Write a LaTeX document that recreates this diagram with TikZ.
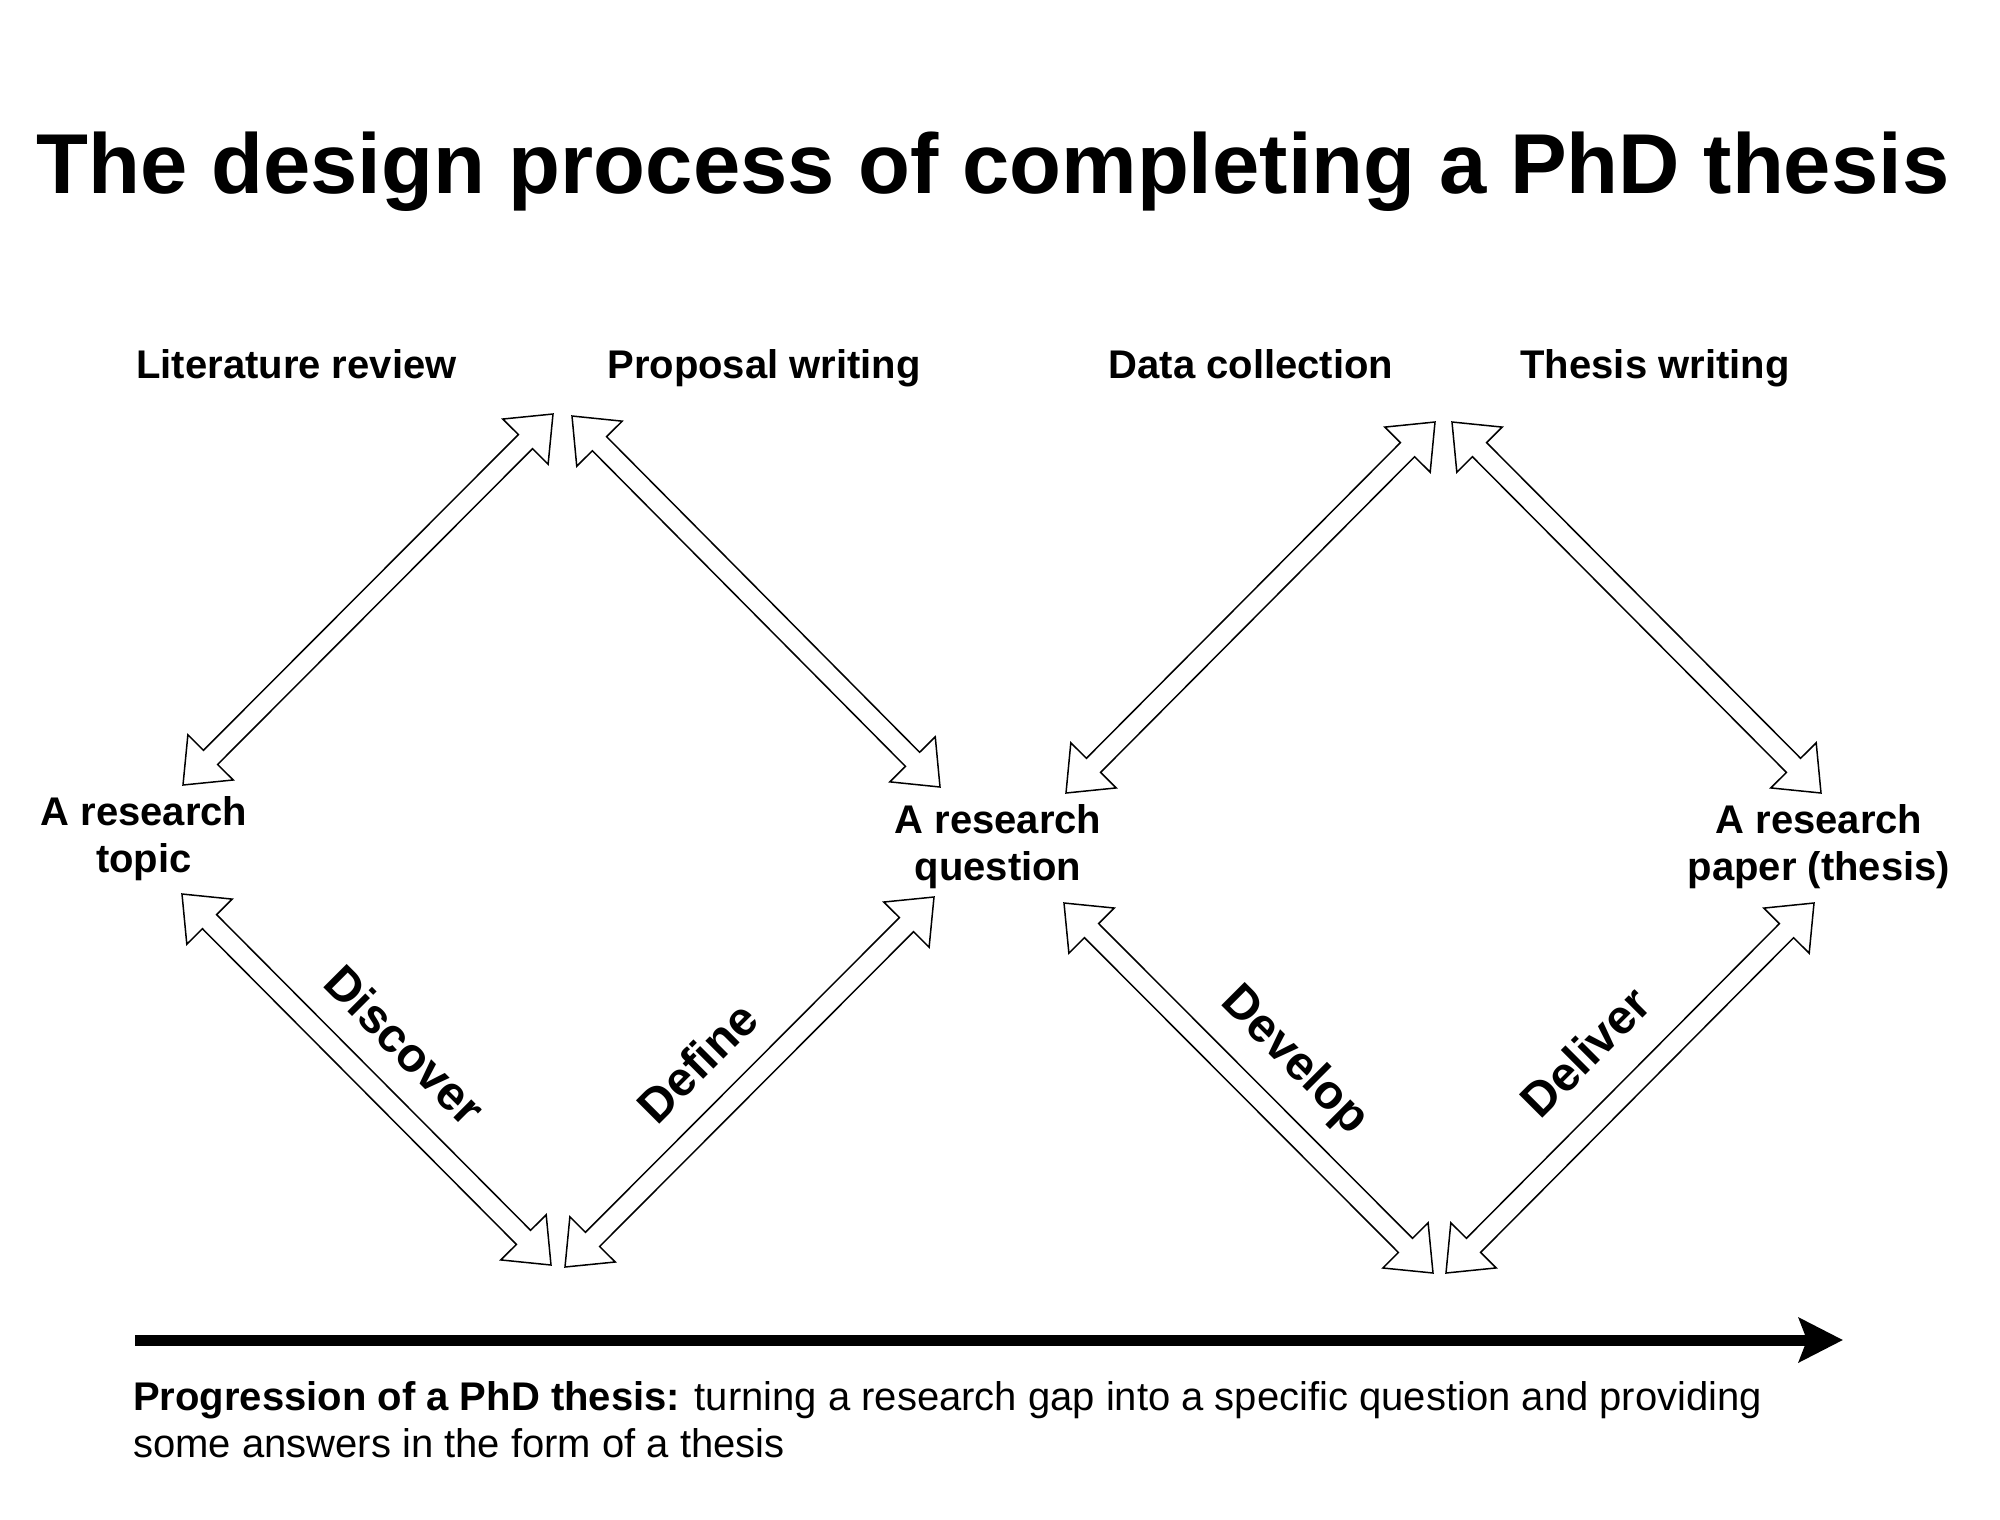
\documentclass[tikz,border=0pt]{standalone}
\usepackage{fontspec}
\setmainfont{Liberation Sans}
\usetikzlibrary{calc,arrows.meta}
\tikzset{
  hollow/.style={draw=black, line width=1.5pt, fill=white, line join=miter},
  lbl/.style={font=\fontsize{40}{47}\selectfont\bfseries, inner sep=0pt, anchor=base, align=center},
  phase/.style={font=\fontsize{48}{54}\selectfont\bfseries, inner sep=0pt},
  progress/.style={line width=11pt, -{Stealth[length=44pt,width=44pt,inset=8pt]}},
}
% double-headed hollow (flex) arrow between two named points
\newcommand\flexarrow[2]{%
  \path ($(#1)!39pt!(#2)$) coordinate (fxa) ($(#2)!39pt!(#1)$) coordinate (fxb);
  \draw[hollow] (#1)
    -- ($(fxa)!32pt!90:(#2)$) -- ($(fxa)!10pt!90:(#2)$)
    -- ($(fxb)!10pt!-90:(#1)$) -- ($(fxb)!32pt!-90:(#1)$)
    -- (#2)
    -- ($(fxb)!32pt!90:(#1)$) -- ($(fxb)!10pt!90:(#1)$)
    -- ($(fxa)!10pt!-90:(#2)$) -- ($(fxa)!32pt!-90:(#2)$)
    -- cycle;
}
\begin{document}
\begin{tikzpicture}[x=1pt,y=-1pt]
\useasboundingbox[fill=white] (0,0) rectangle (2000,1519);

\node[font=\fontsize{85}{100}\selectfont\bfseries, anchor=base, inner sep=0pt] (title) at (993,193) {The design process of completing a PhD thesis};

\node[lbl] (litrev) at (296.5,378) {Literature review};
\node[lbl] (propw) at (764,378) {Proposal writing};
\node[lbl] (datac) at (1251,378) {Data collection};
\node[lbl] (thesw) at (1655,378) {Thesis writing};

% multi-line labels: base anchor is the baseline of the last line
\node[lbl] (topic) at (144,872) {A research\\topic};
\node[lbl] (question) at (998,880) {A research\\question};
\node[lbl] (paper) at (1819,880) {A research\\paper (thesis)};

% arrow end points
\coordinate (lrA) at (183,785);  \coordinate (lrB) at (553,414);
\coordinate (pwA) at (572,416);  \coordinate (pwB) at (940,787);
\coordinate (dcA) at (1066,793); \coordinate (dcB) at (1435,422);
\coordinate (twA) at (1452,422); \coordinate (twB) at (1821,793);
\coordinate (diA) at (182,894);  \coordinate (diB) at (551,1265);
\coordinate (deA) at (565,1267); \coordinate (deB) at (934,897);
\coordinate (dvA) at (1064,903); \coordinate (dvB) at (1433,1273);
\coordinate (dlA) at (1446,1273);\coordinate (dlB) at (1814,903);

\flexarrow{lrA}{lrB}
\flexarrow{pwA}{pwB}
\flexarrow{dcA}{dcB}
\flexarrow{twA}{twB}
\flexarrow{diA}{diB}
\flexarrow{deA}{deB}
\flexarrow{dvA}{dvB}
\flexarrow{dlA}{dlB}

\node[phase, rotate=-45] (discover) at (405,1045) {Discover};
\node[phase, rotate=45] (define) at (697,1062) {Define};
\node[phase, rotate=-45] (develop) at (1294,1061) {Develop};
\node[phase, rotate=45] (deliver) at (1585,1052) {Deliver};

\coordinate (progS) at (135,1340);
\coordinate (progE) at (1843,1340);
\draw[progress] (progS) -- (progE);

\node[font=\fontsize{40}{47}\selectfont, anchor=base west, align=left, inner sep=0pt] (caption) at (133,1457)
  {\textbf{Progression of a PhD thesis:} turning a research gap into a specific question and providing\\some answers in the form of a thesis};
\end{tikzpicture}
\end{document}
